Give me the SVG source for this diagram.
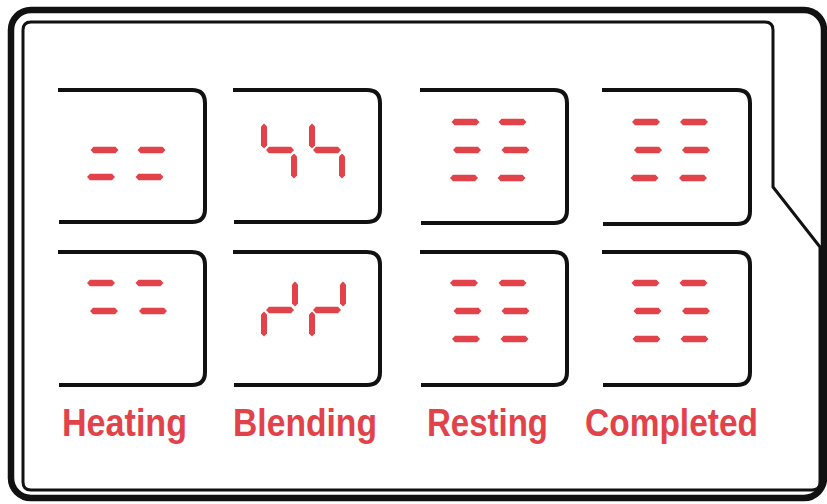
<svg xmlns="http://www.w3.org/2000/svg" xmlns:xlink="http://www.w3.org/1999/xlink" width="827" height="504" viewBox="0 0 827 504">
<style>
.frame{fill:none;stroke:#111;stroke-linejoin:round}
.panel{fill:none;stroke:#111;stroke-width:4;stroke-linejoin:round}
.seg{fill:#e2434b}
.lbl{font-family:"Liberation Sans",Arial,sans-serif;font-size:39px;font-weight:bold;fill:#e2434b}
</style>
<defs>
<polygon id="h" class="seg" points="-14,0 -11,-3.2 11,-3.2 14,0 11,3.2 -11,3.2"/>
<polygon id="v" class="seg" points="0,-12.5 3,-9.6 3,9.6 0,12.5 -3,9.6 -3,-9.6"/>
</defs>
<rect width="827" height="504" fill="#fff"/>
<g id="frame">
<rect class="frame" x="11" y="10" width="813" height="488" rx="20" style="stroke-width:6.5"/>
<path class="frame" style="stroke-width:3" d="M31,22 H765 Q773,22 773,30 V187 L820,247 V482 Q820,490 812,490 H31 Q23,490 23,482 V30 Q23,22 31,22 Z"/>
</g>
<g id="heating">
<path class="panel" d="M58,90 H192 Q205,90 205,103 V209 Q205,222 192,222 H59"/>
<path class="panel" d="M58,252 H192 Q205,252 205,265 V372 Q205,385 192,385 H59"/>
<use href="#h" x="104.5" y="150"/><use href="#h" x="151.5" y="150"/>
<use href="#h" x="101" y="177"/><use href="#h" x="149.5" y="177"/>
<use href="#h" x="101" y="283"/><use href="#h" x="149.5" y="283"/>
<use href="#h" x="104" y="311"/><use href="#h" x="153" y="311"/>
<text class="lbl" x="62" y="436" textLength="125" lengthAdjust="spacingAndGlyphs">Heating</text>
</g>
<g id="blending">
<path class="panel" d="M233,90 H367 Q380,90 380,103 V209 Q380,222 367,222 H234"/>
<path class="panel" d="M233,252 H367 Q380,252 380,265 V372 Q380,385 367,385 H234"/>
<use href="#v" x="264" y="136"/><use href="#h" x="280" y="150"/><use href="#v" x="294" y="166"/>
<use href="#v" x="312" y="136"/><use href="#h" x="327" y="150"/><use href="#v" x="342" y="166"/>
<use href="#v" x="295" y="294"/><use href="#h" x="280" y="310"/><use href="#v" x="264" y="324"/>
<use href="#v" x="343" y="294"/><use href="#h" x="327" y="310"/><use href="#v" x="312" y="324"/>
<text class="lbl" x="233" y="436" textLength="144" lengthAdjust="spacingAndGlyphs">Blending</text>
</g>
<g id="resting">
<path class="panel" d="M420,90 H554 Q567,90 567,103 V210 Q567,223 554,223 H421"/>
<path class="panel" d="M420,252 H554 Q567,252 567,265 V372 Q567,385 554,385 H421"/>
<use href="#h" x="465.5" y="122"/><use href="#h" x="512.5" y="122"/>
<use href="#h" x="467" y="150"/><use href="#h" x="515.5" y="150"/>
<use href="#h" x="464" y="178"/><use href="#h" x="511.5" y="178"/>
<use href="#h" x="464" y="283"/><use href="#h" x="512.5" y="283"/>
<use href="#h" x="467.5" y="311"/><use href="#h" x="515.5" y="311"/>
<use href="#h" x="466" y="339"/><use href="#h" x="514.5" y="339"/>
<text class="lbl" x="427" y="436" textLength="121" lengthAdjust="spacingAndGlyphs">Resting</text>
</g>
<g id="completed">
<path class="panel" d="M602,90 H737 Q750,90 750,103 V211 Q750,224 737,224 H603"/>
<path class="panel" d="M602,252 H737 Q750,252 750,265 V372 Q750,385 737,385 H603"/>
<use href="#h" x="646" y="122"/><use href="#h" x="694" y="122"/>
<use href="#h" x="648" y="150"/><use href="#h" x="696" y="150"/>
<use href="#h" x="644.5" y="178"/><use href="#h" x="693" y="178"/>
<use href="#h" x="645.5" y="283"/><use href="#h" x="693.5" y="283"/>
<use href="#h" x="647.5" y="311"/><use href="#h" x="696" y="311"/>
<use href="#h" x="646.5" y="339"/><use href="#h" x="694.5" y="339"/>
<text class="lbl" x="585" y="436" textLength="173" lengthAdjust="spacingAndGlyphs">Completed</text>
</g>
<g id="connectors"/>
</svg>
